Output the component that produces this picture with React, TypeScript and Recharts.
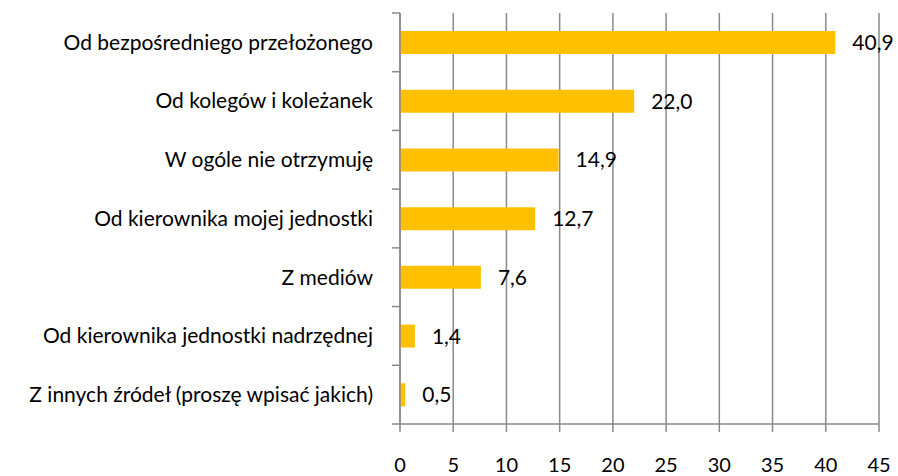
import React from 'react';
import { BarChart, Bar, XAxis, YAxis, CartesianGrid, LabelList } from 'recharts';

const categories = [
  'Od bezpośredniego przełożonego',
  'Od kolegów i koleżanek',
  'W ogóle nie otrzymuję',
  'Od kierownika mojej jednostki',
  'Z mediów',
  'Od kierownika jednostki nadrzędnej',
  'Z innych źródeł (proszę wpisać jakich)',
];
const values = [40.9, 22.0, 14.9, 12.7, 7.6, 1.4, 0.5];
const xTicks = [0, 5, 10, 15, 20, 25, 30, 35, 40, 45];

const data = categories.map((name, i) => ({ name, value: values[i] }));

const FONT = 'Lato, "Liberation Sans", sans-serif';
const GRID = '#8a8a8a';

// category label at band centre, small tick marks at band edges (Excel style)
const CategoryTick = (props: any) => {
  const { y, payload, index } = props;
  const axisX = 400;
  const half = 411 / categories.length / 2;
  return (
    <g>
      <line x1={axisX - 8} x2={axisX} y1={y - half} y2={y - half} stroke={GRID} strokeWidth={1.5} />
      {index === categories.length - 1 && (
        <line x1={axisX - 8} x2={axisX} y1={y + half} y2={y + half} stroke={GRID} strokeWidth={1.5} />
      )}
      <text x={axisX - 27} y={y} dy="0.35em" textAnchor="end" fontSize={21} fill="#000" fontFamily={FONT}>
        {payload.value}
      </text>
    </g>
  );
};

const fmt = (v: any) => Number(v).toFixed(1).replace('.', ',');

export default function App() {
  return (
    <div style={{ position: 'absolute', left: 0, top: 0, background: '#fff' }}>
      <BarChart
        width={898}
        height={476}
        data={data}
        layout="vertical"
        margin={{ top: 13, right: 19, bottom: 0, left: 0 }}
      >
        <CartesianGrid horizontal={false} stroke={GRID} strokeWidth={1.5} />
        <XAxis
          type="number"
          domain={[0, 45]}
          ticks={xTicks}
          height={52}
          tickSize={8}
          tickMargin={26}
          stroke={GRID}
          strokeWidth={1.5}
          tick={{ fill: '#000', fontSize: 20, fontFamily: FONT }}
          interval={0}
        />
        <YAxis
          type="category"
          dataKey="name"
          width={400}
          stroke={GRID}
          strokeWidth={1.5}
          tickLine={false}
          tick={<CategoryTick />}
          interval={0}
        />
        <Bar dataKey="value" fill="#FFC000" barSize={23} isAnimationActive={false}>
          <LabelList
            dataKey="value"
            position="right"
            offset={17}
            formatter={fmt}
            style={{ fill: '#000', fontSize: 21, fontFamily: FONT }}
          />
        </Bar>
      </BarChart>
    </div>
  );
}
